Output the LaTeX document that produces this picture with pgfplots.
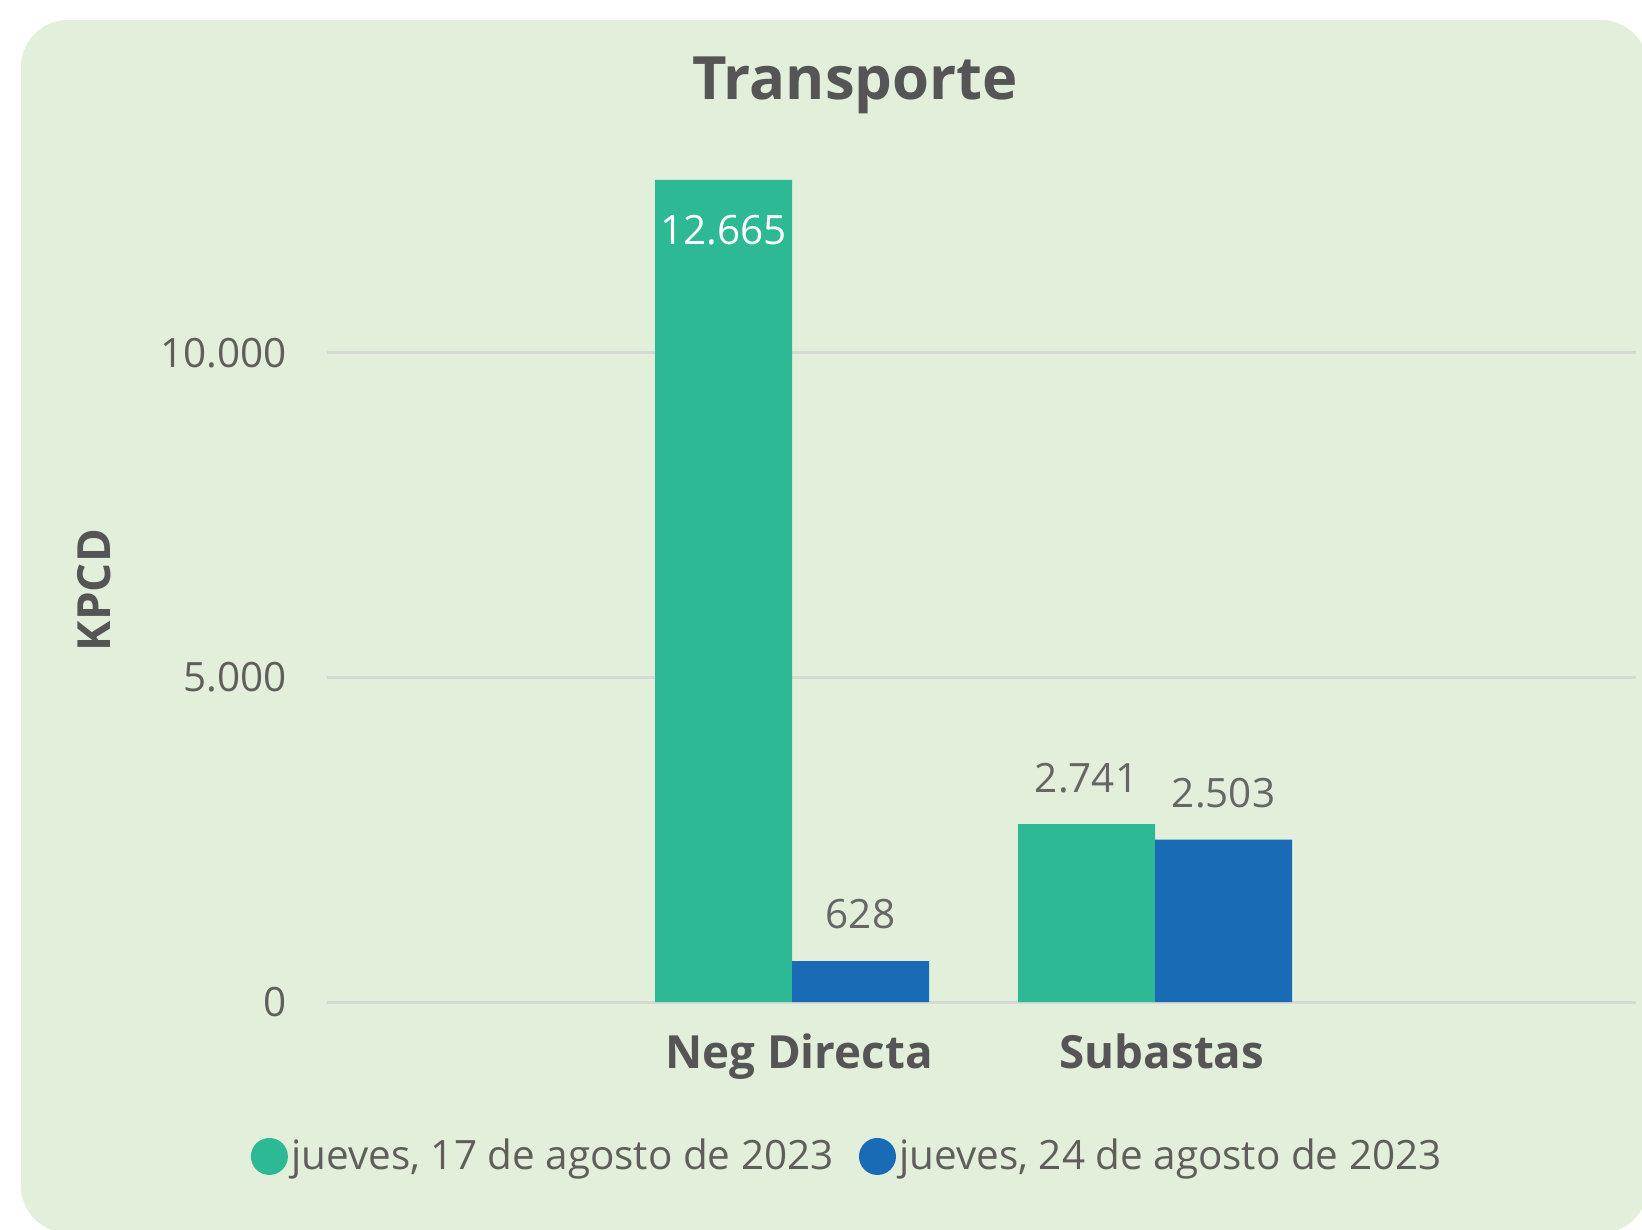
\documentclass[border=0pt]{standalone}
\usepackage{fontspec}
\setmainfont{Open Sans}
\usepackage{pgfplots}
\pgfplotsset{compat=1.18}
\usepackage{pgfplotstable}

\definecolor{bgc}{HTML}{E2EFDA}
\definecolor{gbar}{HTML}{2DB994}
\definecolor{bbar}{HTML}{1A6BB5}
\definecolor{txtgray}{HTML}{605E5C}
\definecolor{titlegray}{HTML}{555555}
\definecolor{lblgray}{HTML}{666666}
\definecolor{gridgray}{HTML}{D6D9D6}

\pgfplotstableread{
x y dy lw
0 12665 -0.50 100
1 2741 0.46 0
}\dataA
\pgfplotstableread{
x y dy lw
0 628 0.47 0
1 2503 0.46 0
}\dataB

\begin{document}
\begin{tikzpicture}
\useasboundingbox (0,0) rectangle (16.42,-12.29);
\fill[bgc, rounded corners=0.47cm] (0.21,-0.20) rectangle (16.48,-12.33);
\node[font=\fontsize{17}{20}\selectfont\bfseries, text=titlegray] at (8.55,-0.85) {Transporte};
\begin{axis}[
  at={(3.27cm,-10.02cm)}, anchor=south west,
  scale only axis, width=13.09cm, height=8.44cm,
  ymin=0, ymax=13000, xmin=-1.281, xmax=2.325,
  ybar=0pt, bar width=1.37cm,
  xtick={0,1}, xticklabels={Neg Directa, Subastas},
  ytick={0,5000,10000}, scaled y ticks=false,
  ymajorgrids, grid style={line width=0.03cm, color=gridgray},
  axis line style={draw=none}, major tick length=0pt,
  /pgf/number format/.cd, use comma, 1000 sep={.}, assume math mode=true,
  /pgfplots/.cd,
  yticklabel style={font=\fontsize{11.5}{14}\selectfont, text=txtgray, anchor=east, xshift=-0.28cm},
  xticklabel style={font=\fontsize{13}{16}\selectfont\bfseries, text=titlegray, anchor=base, yshift=-0.66cm, xshift=0.07cm},
  ylabel={KPCD},
  ylabel style={at={(axis description cs:-0.178,0.488)}, anchor=center, font=\fontsize{13}{16}\selectfont\bfseries, text=titlegray},
  nodes near coords,
  visualization depends on={\thisrow{dy} \as \dy},
  visualization depends on={\thisrow{lw} \as \lw},
  every node near coord/.append style={anchor=center, yshift=\dy cm, text={white!\lw!lblgray}, font=\fontsize{11.5}{14}\selectfont},
  legend style={at={(axis description cs:0.398,-0.183)}, anchor=center, draw=none, fill=none,
    legend columns=2, font=\fontsize{11.5}{14}\selectfont, text=txtgray,
    nodes={inner sep=1pt},
    /tikz/every even column/.append style={column sep=0.22cm}},
]
\addplot[fill=gbar, draw=none, legend image code/.code={\fill[gbar] (0.185cm,0cm) circle (0.185cm);}] table[x=x, y=y] {\dataA};
\addlegendentry{jueves, 17 de agosto de 2023}
\addplot[fill=bbar, draw=none, legend image code/.code={\fill[bbar] (0.185cm,0cm) circle (0.185cm);}] table[x=x, y=y] {\dataB};
\addlegendentry{jueves, 24 de agosto de 2023}
\end{axis}
\end{tikzpicture}
\end{document}
